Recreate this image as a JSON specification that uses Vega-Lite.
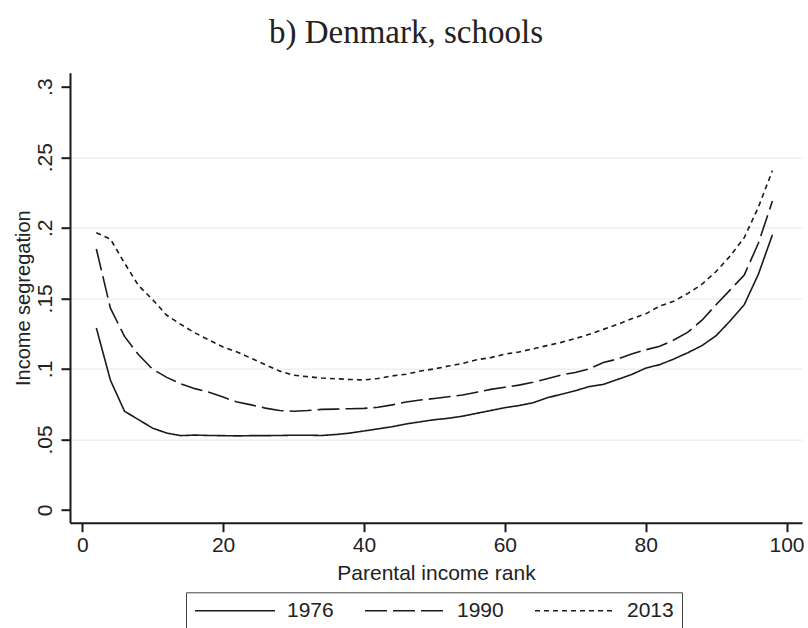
{
  "$schema": "https://vega.github.io/schema/vega-lite/v6.json",
  "width": 732,
  "height": 450,
  "autosize": {"type": "none"},
  "padding": {"left": 70, "top": 72.7, "right": 6, "bottom": 105.3},
  "background": "white",
  "title": {
    "text": "b) Denmark, schools",
    "font": "Liberation Serif",
    "fontSize": 33,
    "fontWeight": "normal",
    "color": "#222",
    "anchor": "middle",
    "frame": "group",
    "dx": -30,
    "baseline": "alphabetic",
    "offset": -3.5
  },
  "config": {
    "view": {"stroke": null},
    "axis": {
      "labelFont": "Liberation Sans",
      "titleFont": "Liberation Sans",
      "labelColor": "#222",
      "titleColor": "#222",
      "titleFontWeight": "normal",
      "domainColor": "#1a1a1a",
      "domainWidth": 2,
      "tickColor": "#1a1a1a",
      "tickWidth": 2,
      "tickSize": 9
    }
  },
  "data": {
    "values": [
      {"rank": 2, "year": "1976", "seg": 0.129},
      {"rank": 4, "year": "1976", "seg": 0.092},
      {"rank": 6, "year": "1976", "seg": 0.070},
      {"rank": 8, "year": "1976", "seg": 0.064},
      {"rank": 10, "year": "1976", "seg": 0.058},
      {"rank": 12, "year": "1976", "seg": 0.0545},
      {"rank": 14, "year": "1976", "seg": 0.0527},
      {"rank": 16, "year": "1976", "seg": 0.0531},
      {"rank": 18, "year": "1976", "seg": 0.0528},
      {"rank": 20, "year": "1976", "seg": 0.0527},
      {"rank": 22, "year": "1976", "seg": 0.0525},
      {"rank": 24, "year": "1976", "seg": 0.0527},
      {"rank": 26, "year": "1976", "seg": 0.0527},
      {"rank": 28, "year": "1976", "seg": 0.0528},
      {"rank": 30, "year": "1976", "seg": 0.0530},
      {"rank": 32, "year": "1976", "seg": 0.0530},
      {"rank": 34, "year": "1976", "seg": 0.0528},
      {"rank": 36, "year": "1976", "seg": 0.0535},
      {"rank": 38, "year": "1976", "seg": 0.0545},
      {"rank": 40, "year": "1976", "seg": 0.0560},
      {"rank": 42, "year": "1976", "seg": 0.0575},
      {"rank": 44, "year": "1976", "seg": 0.0590},
      {"rank": 46, "year": "1976", "seg": 0.0610},
      {"rank": 48, "year": "1976", "seg": 0.0625},
      {"rank": 50, "year": "1976", "seg": 0.0640},
      {"rank": 52, "year": "1976", "seg": 0.0650},
      {"rank": 54, "year": "1976", "seg": 0.0665},
      {"rank": 56, "year": "1976", "seg": 0.0685},
      {"rank": 58, "year": "1976", "seg": 0.0705},
      {"rank": 60, "year": "1976", "seg": 0.0725},
      {"rank": 62, "year": "1976", "seg": 0.0740},
      {"rank": 64, "year": "1976", "seg": 0.0760},
      {"rank": 66, "year": "1976", "seg": 0.0795},
      {"rank": 68, "year": "1976", "seg": 0.0820},
      {"rank": 70, "year": "1976", "seg": 0.0845},
      {"rank": 72, "year": "1976", "seg": 0.0875},
      {"rank": 74, "year": "1976", "seg": 0.0890},
      {"rank": 76, "year": "1976", "seg": 0.0925},
      {"rank": 78, "year": "1976", "seg": 0.0960},
      {"rank": 80, "year": "1976", "seg": 0.1005},
      {"rank": 82, "year": "1976", "seg": 0.1030},
      {"rank": 84, "year": "1976", "seg": 0.1070},
      {"rank": 86, "year": "1976", "seg": 0.1115},
      {"rank": 88, "year": "1976", "seg": 0.1165},
      {"rank": 90, "year": "1976", "seg": 0.1235},
      {"rank": 92, "year": "1976", "seg": 0.1340},
      {"rank": 94, "year": "1976", "seg": 0.1455},
      {"rank": 96, "year": "1976", "seg": 0.1670},
      {"rank": 98, "year": "1976", "seg": 0.1950},
      {"rank": 2, "year": "1990", "seg": 0.185},
      {"rank": 4, "year": "1990", "seg": 0.143},
      {"rank": 6, "year": "1990", "seg": 0.123},
      {"rank": 8, "year": "1990", "seg": 0.110},
      {"rank": 10, "year": "1990", "seg": 0.0998},
      {"rank": 12, "year": "1990", "seg": 0.0940},
      {"rank": 14, "year": "1990", "seg": 0.0894},
      {"rank": 16, "year": "1990", "seg": 0.0860},
      {"rank": 18, "year": "1990", "seg": 0.0835},
      {"rank": 20, "year": "1990", "seg": 0.0800},
      {"rank": 22, "year": "1990", "seg": 0.0765},
      {"rank": 24, "year": "1990", "seg": 0.0745},
      {"rank": 26, "year": "1990", "seg": 0.0722},
      {"rank": 28, "year": "1990", "seg": 0.0705},
      {"rank": 30, "year": "1990", "seg": 0.0700},
      {"rank": 32, "year": "1990", "seg": 0.0705},
      {"rank": 34, "year": "1990", "seg": 0.0713},
      {"rank": 36, "year": "1990", "seg": 0.0715},
      {"rank": 38, "year": "1990", "seg": 0.0718},
      {"rank": 40, "year": "1990", "seg": 0.0720},
      {"rank": 42, "year": "1990", "seg": 0.0728},
      {"rank": 44, "year": "1990", "seg": 0.0745},
      {"rank": 46, "year": "1990", "seg": 0.0765},
      {"rank": 48, "year": "1990", "seg": 0.0780},
      {"rank": 50, "year": "1990", "seg": 0.0790},
      {"rank": 52, "year": "1990", "seg": 0.0802},
      {"rank": 54, "year": "1990", "seg": 0.0815},
      {"rank": 56, "year": "1990", "seg": 0.0835},
      {"rank": 58, "year": "1990", "seg": 0.0855},
      {"rank": 60, "year": "1990", "seg": 0.0870},
      {"rank": 62, "year": "1990", "seg": 0.0885},
      {"rank": 64, "year": "1990", "seg": 0.0905},
      {"rank": 66, "year": "1990", "seg": 0.0930},
      {"rank": 68, "year": "1990", "seg": 0.0957},
      {"rank": 70, "year": "1990", "seg": 0.0975},
      {"rank": 72, "year": "1990", "seg": 0.1000},
      {"rank": 74, "year": "1990", "seg": 0.1045},
      {"rank": 76, "year": "1990", "seg": 0.1070},
      {"rank": 78, "year": "1990", "seg": 0.1105},
      {"rank": 80, "year": "1990", "seg": 0.1135},
      {"rank": 82, "year": "1990", "seg": 0.1160},
      {"rank": 84, "year": "1990", "seg": 0.1205},
      {"rank": 86, "year": "1990", "seg": 0.1260},
      {"rank": 88, "year": "1990", "seg": 0.1345},
      {"rank": 90, "year": "1990", "seg": 0.1455},
      {"rank": 92, "year": "1990", "seg": 0.1560},
      {"rank": 94, "year": "1990", "seg": 0.1665},
      {"rank": 96, "year": "1990", "seg": 0.1890},
      {"rank": 98, "year": "1990", "seg": 0.2190},
      {"rank": 2, "year": "2013", "seg": 0.1965},
      {"rank": 4, "year": "2013", "seg": 0.1920},
      {"rank": 6, "year": "2013", "seg": 0.1750},
      {"rank": 8, "year": "2013", "seg": 0.1590},
      {"rank": 10, "year": "2013", "seg": 0.1490},
      {"rank": 12, "year": "2013", "seg": 0.1380},
      {"rank": 14, "year": "2013", "seg": 0.1315},
      {"rank": 16, "year": "2013", "seg": 0.1255},
      {"rank": 18, "year": "2013", "seg": 0.1205},
      {"rank": 20, "year": "2013", "seg": 0.1155},
      {"rank": 22, "year": "2013", "seg": 0.1120},
      {"rank": 24, "year": "2013", "seg": 0.1075},
      {"rank": 26, "year": "2013", "seg": 0.1030},
      {"rank": 28, "year": "2013", "seg": 0.0985},
      {"rank": 30, "year": "2013", "seg": 0.0955},
      {"rank": 32, "year": "2013", "seg": 0.0945},
      {"rank": 34, "year": "2013", "seg": 0.0935},
      {"rank": 36, "year": "2013", "seg": 0.0930},
      {"rank": 38, "year": "2013", "seg": 0.0925},
      {"rank": 40, "year": "2013", "seg": 0.0922},
      {"rank": 42, "year": "2013", "seg": 0.0932},
      {"rank": 44, "year": "2013", "seg": 0.0950},
      {"rank": 46, "year": "2013", "seg": 0.0962},
      {"rank": 48, "year": "2013", "seg": 0.0985},
      {"rank": 50, "year": "2013", "seg": 0.1000},
      {"rank": 52, "year": "2013", "seg": 0.1020},
      {"rank": 54, "year": "2013", "seg": 0.1038},
      {"rank": 56, "year": "2013", "seg": 0.1065},
      {"rank": 58, "year": "2013", "seg": 0.1080},
      {"rank": 60, "year": "2013", "seg": 0.1105},
      {"rank": 62, "year": "2013", "seg": 0.1120},
      {"rank": 64, "year": "2013", "seg": 0.1142},
      {"rank": 66, "year": "2013", "seg": 0.1165},
      {"rank": 68, "year": "2013", "seg": 0.1188},
      {"rank": 70, "year": "2013", "seg": 0.1215},
      {"rank": 72, "year": "2013", "seg": 0.1245},
      {"rank": 74, "year": "2013", "seg": 0.1280},
      {"rank": 76, "year": "2013", "seg": 0.1315},
      {"rank": 78, "year": "2013", "seg": 0.1355},
      {"rank": 80, "year": "2013", "seg": 0.1390},
      {"rank": 82, "year": "2013", "seg": 0.1445},
      {"rank": 84, "year": "2013", "seg": 0.1480},
      {"rank": 86, "year": "2013", "seg": 0.1535},
      {"rank": 88, "year": "2013", "seg": 0.1600},
      {"rank": 90, "year": "2013", "seg": 0.1690},
      {"rank": 92, "year": "2013", "seg": 0.1800},
      {"rank": 94, "year": "2013", "seg": 0.1930},
      {"rank": 96, "year": "2013", "seg": 0.2145},
      {"rank": 98, "year": "2013", "seg": 0.2405}
    ]
  },
  "mark": {"type": "line", "color": "#1a1a1a", "strokeWidth": 1.6},
  "encoding": {
    "x": {
      "field": "rank",
      "type": "quantitative",
      "scale": {"domain": [-1.74, 102.2], "nice": false, "zero": false},
      "axis": {
        "values": [0, 20, 40, 60, 80, 100],
        "title": "Parental income rank",
        "grid": false,
        "labelFontSize": 21,
        "titleFontSize": 21,
        "labelBaseline": "alphabetic",
        "labelPadding": 20,
        "labelFlush": false,
        "titleBaseline": "alphabetic",
        "titleY": 57
      }
    },
    "y": {
      "field": "seg",
      "type": "quantitative",
      "scale": {"domain": [-0.009, 0.3099], "nice": false, "zero": false},
      "axis": {
        "values": [0, 0.05, 0.1, 0.15, 0.2, 0.25, 0.3],
        "labelExpr": "datum.value == 0 ? '0' : substring(format(datum.value, '.2~f'), 1)",
        "title": "Income segregation",
        "grid": true,
        "gridColor": "#ececec",
        "gridWidth": 1.2,
        "gridOpacity": {"condition": {"test": "datum.value == 0 || datum.value == 0.3", "value": 0}, "value": 1},
        "labelFontSize": 21,
        "titleFontSize": 20,
        "labelAngle": 270,
        "labelAlign": "center",
        "labelBaseline": "alphabetic",
        "labelPadding": 9.3,
        "labelFlush": false,
        "titleAngle": 270,
        "titleBaseline": "alphabetic",
        "titleAlign": "center",
        "titleX": -41,
        "titleY": 225
      }
    },
    "strokeDash": {
      "field": "year",
      "type": "nominal",
      "scale": {"domain": ["1976", "1990", "2013"], "range": [[1, 0], [22, 6], [5, 4]]},
      "legend": {
        "title": null,
        "orient": "none",
        "legendX": 116,
        "legendY": 519.6,
        "direction": "horizontal",
        "symbolType": "stroke",
        "symbolSize": 6400,
        "symbolStrokeWidth": 1.6,
        "symbolStrokeColor": "#1a1a1a",
        "labelFont": "Liberation Sans",
        "labelFontSize": 21,
        "labelColor": "#222",
        "labelOffset": 11,
        "columnPadding": 30,
        "padding": 8,
        "strokeColor": "#444",
        "clipHeight": 21
      }
    }
  }
}
